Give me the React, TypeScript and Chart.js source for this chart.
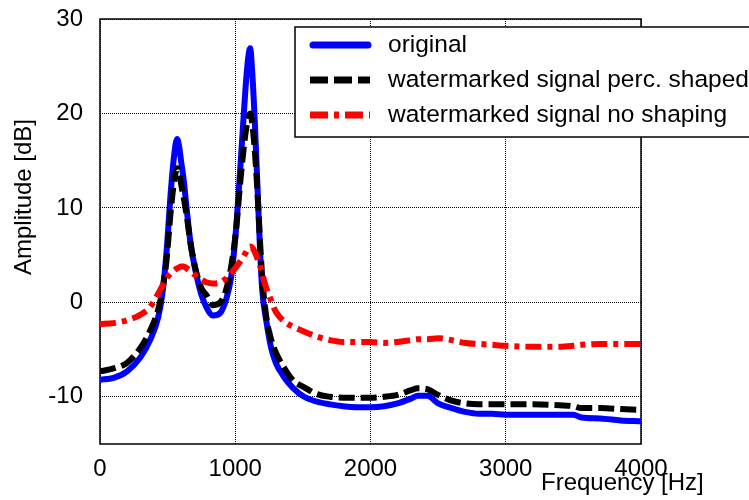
import React, { useEffect, useRef } from "react";
import { Chart, registerables } from "chart.js";

Chart.register(...registerables);

const frequencies = [
  0, 100, 200, 300, 370, 430, 460, 490, 525, 550, 570, 585, 600, 620, 640, 670, 710, 750, 790, 835,
  890, 930, 970, 1005, 1040, 1075, 1095, 1110, 1125, 1145, 1165, 1185, 1200, 1230, 1265, 1300, 1360,
  1430, 1510, 1600, 1700, 1800, 1900, 2000, 2100, 2200, 2300, 2350, 2420, 2500, 2600, 2700, 2800,
  2900, 3000, 3200, 3400, 3500, 3560, 3700, 3850, 4000,
];

const original = [
  -8.2, -8.0, -7.3, -5.8, -4.0, -1.6, 0.8, 5.0, 12.0, 15.8, 17.3, 16.5, 14.9, 12.8, 10.0, 6.2, 3.1, 0.8, -0.6, -1.4,
  -1.1, 0.2, 2.7, 7.6, 14.8, 22.5, 25.8, 26.9, 24.5, 19.0, 12.0, 5.0, 1.2, -2.0, -4.8, -6.4, -7.9,
  -9.1, -10.0, -10.5, -10.8, -11.0, -11.1, -11.1, -11.0, -10.7, -10.2, -9.9, -9.9, -10.7, -11.2, -11.6, -11.8,
  -11.8, -11.9, -11.9, -11.9, -11.9, -12.2, -12.3, -12.5, -12.6,
];

const percShaped = [
  -7.3, -7.0, -6.4, -4.8, -3.0, -0.8, 1.2, 4.2, 10.0, 13.0, 14.2, 13.8, 12.5, 11.0, 9.3, 6.2, 3.3, 1.5, 0.7, -0.3,
  0.0, 1.2, 3.8, 7.5, 13.2, 17.8, 19.5, 20.0, 19.0, 16.0, 11.5, 6.0, 2.5, -1.6, -3.9, -5.3, -6.9,
  -8.3, -9.0, -9.7, -10.0, -10.1, -10.1, -10.1, -10.0, -9.8, -9.3, -9.1, -9.2, -9.8, -10.4, -10.7, -10.8,
  -10.8, -10.8, -10.8, -10.9, -11.0, -11.2, -11.2, -11.3, -11.4,
];

const noShaping = [
  -2.3, -2.2, -1.9, -1.3, -0.5, 0.9, 1.7, 2.5, 3.1, 3.4, 3.6, 3.7, 3.8, 3.8, 3.6, 3.3, 2.8, 2.4, 2.1, 2.0,
  2.1, 2.5, 3.1, 3.7, 4.4, 5.2, 5.7, 5.9, 5.8, 5.3, 4.6, 3.8, 3.0, 1.5, 0.2, -1.0, -2.0,
  -2.6, -3.1, -3.6, -4.0, -4.2, -4.2, -4.2, -4.3, -4.2, -4.0, -3.9, -3.9, -3.8, -4.0, -4.3, -4.4,
  -4.5, -4.6, -4.7, -4.7, -4.6, -4.5, -4.4, -4.4, -4.4,
];

const xTicks = [0, 1000, 2000, 3000, 4000];
const yTicks = [-10, 0, 10, 20, 30];
const seriesLabels = [
  "original",
  "watermarked signal perc. shaped",
  "watermarked signal no shaping",
];
const xTitle = "Frequency [Hz]";
const yTitle = "Amplitude [dB]";

const FONT = "'Liberation Sans', Arial, Helvetica, sans-serif";

const decorPlugin = {
  id: "decor",
  beforeDatasetsDraw(chart: any) {
    const { ctx, chartArea: a } = chart;
    ctx.save();
    ctx.strokeStyle = "#000";
    ctx.lineWidth = 1.5;
    ctx.setLineDash([]);
    ctx.strokeRect(a.left, a.top, a.right - a.left, a.bottom - a.top);
    ctx.restore();
  },
  afterDraw(chart: any) {
    const { ctx } = chart;
    ctx.save();
    // legend box
    ctx.fillStyle = "#fff";
    ctx.fillRect(295, 27, 470, 110);
    ctx.strokeStyle = "#000";
    ctx.lineWidth = 1.5;
    ctx.setLineDash([]);
    ctx.strokeRect(295, 27, 470, 110);
    const rows = [45, 80, 115];
    chart.data.datasets.forEach((ds: any, i: number) => {
      const y = rows[i];
      ctx.save();
      ctx.strokeStyle = ds.borderColor;
      ctx.lineWidth = 7;
      ctx.lineCap = ds.borderCapStyle || "butt";
      ctx.setLineDash(ds.borderDash ? [18, 6, 5, 6].slice(0, ds.borderDash.length) : []);
      ctx.beginPath();
      const x0 = ds.borderCapStyle === "round" ? 313 : 310;
      const x1 = ds.borderCapStyle === "round" ? 368 : 370;
      ctx.moveTo(x0, y);
      ctx.lineTo(x1, y);
      ctx.stroke();
      ctx.restore();
      ctx.fillStyle = "#000";
      ctx.font = `24.5px ${FONT}`;
      ctx.textAlign = "left";
      ctx.textBaseline = "middle";
      ctx.fillText(ds.label, 388, y);
    });
    // axis titles
    ctx.fillStyle = "#000";
    ctx.font = `24px ${FONT}`;
    ctx.textAlign = "left";
    ctx.textBaseline = "alphabetic";
    ctx.fillText(xTitle, 541, 490);
    ctx.save();
    ctx.translate(31, 197);
    ctx.rotate(-Math.PI / 2);
    ctx.textAlign = "center";
    ctx.fillText(yTitle, 0, 0);
    ctx.restore();
    ctx.restore();
  },
};

export default function App() {
  const canvasRef = useRef<HTMLCanvasElement | null>(null);

  useEffect(() => {
    const canvas = canvasRef.current;
    if (!canvas) return;
    const toPoints = (vals: number[]) => frequencies.map((f, i) => ({ x: f, y: vals[i] }));
    const chart = new Chart(canvas, {
      type: "line",
      data: {
        datasets: [
          {
            label: seriesLabels[0],
            data: toPoints(original),
            borderColor: "#0000ff",
            borderWidth: 6,
            borderCapStyle: "round",
            borderJoinStyle: "round",
            pointRadius: 0,
            cubicInterpolationMode: "monotone",
            order: 2,
          },
          {
            label: seriesLabels[1],
            data: toPoints(percShaped),
            borderColor: "#000000",
            borderWidth: 6,
            borderDash: [16, 6],
            borderCapStyle: "butt",
            pointRadius: 0,
            cubicInterpolationMode: "monotone",
            order: 1,
          },
          {
            label: seriesLabels[2],
            data: toPoints(noShaping),
            borderColor: "#ff0000",
            borderWidth: 6,
            borderDash: [16, 6, 5, 6],
            borderCapStyle: "butt",
            pointRadius: 0,
            cubicInterpolationMode: "monotone",
            order: 0,
          },
        ],
      },
      options: {
        animation: false,
        responsive: false,
        maintainAspectRatio: false,
        parsing: false,
        layout: { padding: { left: 0, right: 108, top: 19, bottom: 0 } },
        plugins: {
          legend: { display: false },
          tooltip: { enabled: false },
          title: { display: false },
        },
        scales: {
          x: {
            type: "linear",
            min: 0,
            max: 4000,
            afterBuildTicks: (s: any) => {
              s.ticks = xTicks.map((v) => ({ value: v }));
            },
            afterFit: (s: any) => {
              s.height = 56;
              s.paddingLeft = 0;
              s.paddingRight = 0;
            },
            grid: { color: "#000", lineWidth: 1, drawTicks: false },
            border: { display: false, dash: [1, 1] },
            ticks: {
              color: "#000",
              font: { family: FONT, size: 24 },
              padding: 11,
              maxRotation: 0,
              autoSkip: false,
              callback: (v: any) => String(v),
            },
          },
          y: {
            type: "linear",
            min: -15,
            max: 30,
            afterBuildTicks: (s: any) => {
              s.ticks = yTicks.map((v) => ({ value: v }));
            },
            afterFit: (s: any) => {
              s.width = 100;
              s.paddingTop = 0;
              s.paddingBottom = 0;
            },
            grid: { color: "#000", lineWidth: 1, drawTicks: false },
            border: { display: false, dash: [1, 1] },
            ticks: {
              color: "#000",
              font: { family: FONT, size: 24 },
              padding: 17,
              autoSkip: false,
              callback: (v: any) => String(v),
            },
          },
        },
      },
      plugins: [decorPlugin],
    } as any);
    return () => chart.destroy();
  }, []);

  return (
    <div style={{ position: "absolute", left: 0, top: 0, width: 749, height: 500, background: "#fff" }}>
      <canvas ref={canvasRef} width={749} height={500} style={{ display: "block" }} />
    </div>
  );
}
